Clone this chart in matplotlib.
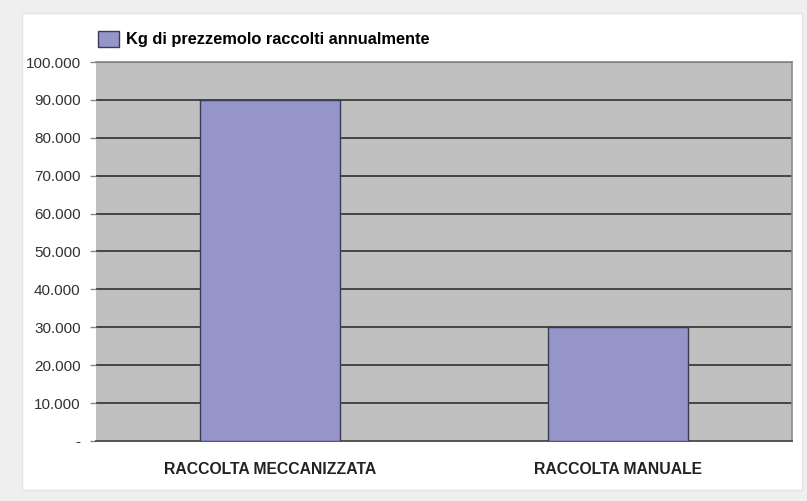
import matplotlib.pyplot as plt
from matplotlib.patches import Rectangle
from matplotlib.ticker import FuncFormatter

categorie = ['RACCOLTA MECCANIZZATA', 'RACCOLTA MANUALE']
kg_raccolti = [90000, 30000]
serie = 'Kg di prezzemolo raccolti annualmente'
y_ticks = [0, 10000, 20000, 30000, 40000, 50000, 60000, 70000, 80000, 90000, 100000]

plt.rcParams['font.family'] = ['Liberation Sans', 'DejaVu Sans']

W, H = 807, 501
fig = plt.figure(figsize=(W / 100, H / 100), dpi=100)
fig.patch.set_facecolor('#efefef')

# white card behind the chart
fig.patches.append(Rectangle((22 / W, 1 - 490 / H), 780 / W, 477 / H,
                             transform=fig.transFigure, facecolor='white',
                             edgecolor='#e4e4e4', linewidth=1, zorder=-5))

ax = fig.add_axes([96 / W, 1 - 441 / H, 696 / W, 379 / H])
ax.set_zorder(2)
ax.set_facecolor('#c0c0c0')

x = range(len(categorie))
bars = ax.bar(x, kg_raccolti, width=0.4, color='#9595c9', edgecolor='#3a3a55',
              linewidth=1.0, zorder=3, label=serie)

ax.set_xlim(-0.5, 1.5)
ax.set_ylim(0, 100000)
ax.set_yticks(y_ticks)
ax.yaxis.set_major_formatter(FuncFormatter(
    lambda v, p: '-' if v == 0 else f'{int(v):,}'.replace(',', '.')))
ax.grid(axis='y', color='#454545', linewidth=1.4, zorder=1)
ax.set_axisbelow(True)

ax.set_xticks(list(x))
ax.set_xticklabels(categorie, fontsize=11.3, fontweight='bold', color='#222222')
ax.tick_params(axis='x', length=0, pad=15)
ax.tick_params(axis='y', length=4, width=1, color='#888888', labelsize=11,
               labelcolor='#333333', pad=7)

for side in ['top', 'right']:
    ax.spines[side].set_color('#8a8a8a')
    ax.spines[side].set_linewidth(1.2)
ax.spines['left'].set_visible(False)
ax.spines['bottom'].set_color('#555555')
ax.spines['bottom'].set_linewidth(1.4)

leg = fig.legend(handles=[bars], labels=[serie], loc='center left',
                 bbox_to_anchor=(83 / W, 1 - 39 / H), frameon=False,
                 prop={'weight': 'bold', 'size': 11.8},
                 handlelength=1.3, handleheight=1.2, handletextpad=0.45)

fig.savefig('out.png', dpi=100, facecolor=fig.get_facecolor())
